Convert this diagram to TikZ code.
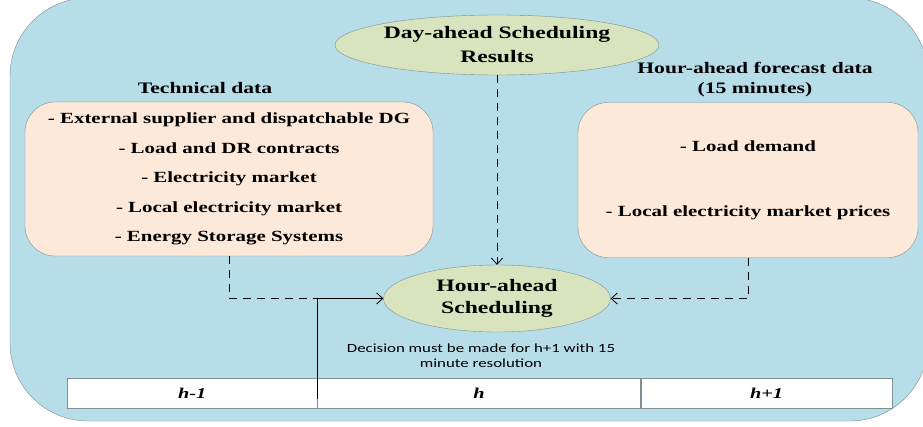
\documentclass[tikz,border=0pt]{standalone}
\usepackage{fontspec}
\setmainfont{Liberation Serif}[FakeStretch=1.35]
\newfontfamily\capfont{Carlito}[FakeStretch=1.35]
\usetikzlibrary{shapes.geometric,arrows.meta}
\definecolor{panelblue}{HTML}{B7DDE8}
\definecolor{boxpeach}{HTML}{FDE9D9}
\definecolor{ovalgreen}{HTML}{D7E4BD}
\definecolor{edgegrey}{HTML}{7F8F94}
\begin{document}
\begin{tikzpicture}[x=1pt, y=-1pt,
    every node/.style={font=\bfseries},
    databox/.style={draw=edgegrey, fill=boxpeach, rounded corners=30pt, inner sep=0pt, align=center},
    oval/.style={ellipse, draw=edgegrey, fill=ovalgreen, inner sep=0pt, align=center},
    slot/.style={draw=edgegrey, fill=white, minimum height=30pt, inner sep=0pt, font=\bfseries\itshape\fontsize{15}{18}\selectfont},
    flow/.style={-{Straight Barb[length=6pt,width=11pt]}, thick},
    dashflow/.style={flow, dash pattern=on 8pt off 6pt}]
    \useasboundingbox (0,0) rectangle (923,426);
    \begin{scope}
        \clip (0,0) rectangle (923,426);
        \draw[draw=edgegrey, fill=panelblue, rounded corners=78pt] (10,-2) rectangle (928,421);
    \end{scope}
    % input boxes
    \node[databox, minimum width=408pt, minimum height=154pt, font=\bfseries\fontsize{15.5}{29.5}\selectfont] (tech) at (229,179)
        {- External supplier and dispatchable DG\\- Load and DR contracts\\- Electricity market\\- Local electricity market\\- Energy Storage Systems};
    \node[databox, minimum width=340pt, minimum height=155pt, font=\bfseries\fontsize{15.5}{65}\selectfont] (fcst) at (748,180)
        {- Load demand\\- Local electricity market prices};
    \node[font=\bfseries\fontsize{16}{18}\selectfont] (techlbl) at (205,88) {Technical data};
    \node[align=center, font=\bfseries\fontsize{16}{20}\selectfont] (fcstlbl) at (755,80) {Hour-ahead forecast data\\(15 minutes)};
    % scheduling stages
    \node[oval, minimum width=324pt, minimum height=60pt, font=\bfseries\fontsize{17.5}{24}\selectfont] (day) at (497,45)
        {Day-ahead Scheduling\\Results};
    \node[oval, minimum width=227pt, minimum height=67pt, font=\bfseries\fontsize{17.5}{22}\selectfont] (hour) at (497,298.5)
        {Hour-ahead\\Scheduling};
    \node[align=center, font=\capfont\fontsize{12.5}{15}\selectfont] (note) at (481,356)
        {Decision must be made for h+1 with 15\\minute resolution};
    % time line
    \node[slot, minimum width=250pt, anchor=west] (hprev) at (67,393) {h-1};
    \node[slot, minimum width=323pt, anchor=west] (hnow) at (hprev.east) {h};
    \node[slot, minimum width=251pt, anchor=west] (hnext) at (hnow.east) {h+1};
    % connectors
    \coordinate (join) at (318,298.5);
    \draw[thick, dash pattern=on 8pt off 6pt] (tech.south) |- (join);
    \draw[flow] ([yshift=9pt]hprev.south east) |- (hour.west);
    \draw[dashflow] (day.south) -- (hour.north);
    \draw[dashflow] (fcst.south) |- (hour.east);
\end{tikzpicture}
\end{document}
